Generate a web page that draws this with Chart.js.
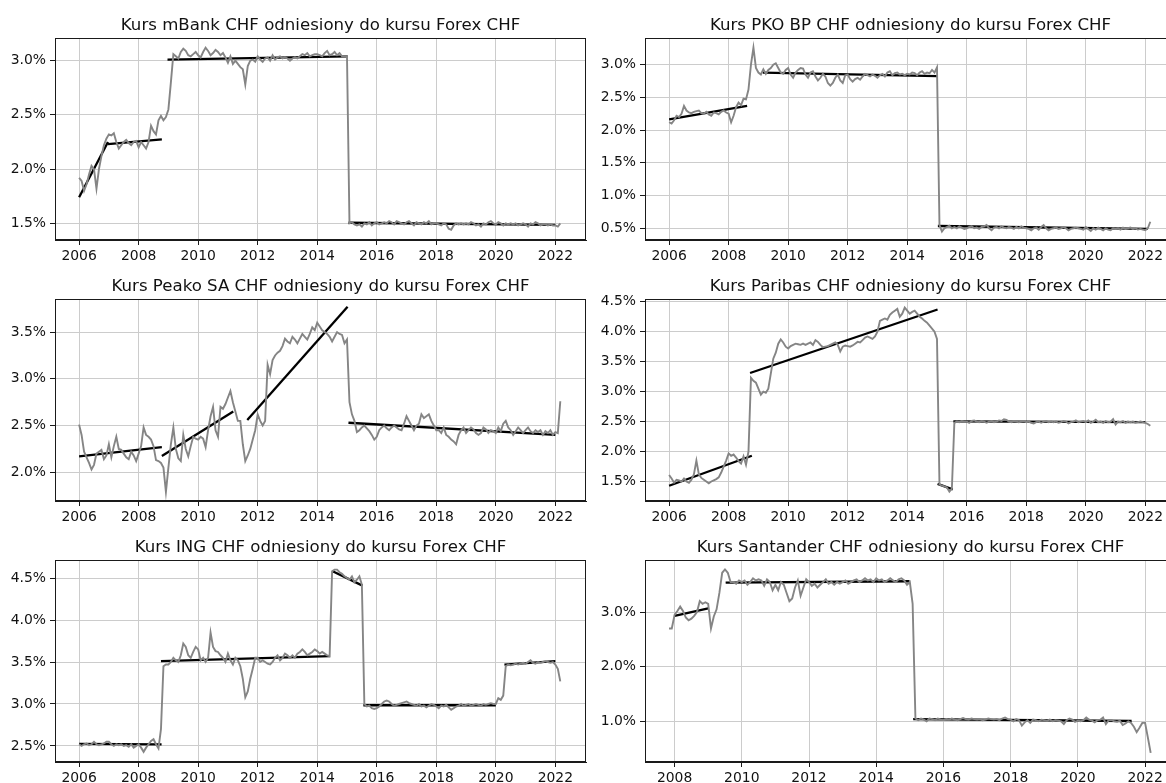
<!DOCTYPE html>
<html><head><meta charset="utf-8">
<script src="https://cdn.jsdelivr.net/npm/chart.js@4.4.1/dist/chart.umd.min.js"></script>
<style>
html,body{margin:0;padding:0;background:#fff;width:1166px;height:783px;overflow:hidden;position:relative;}
canvas{position:absolute;}
</style></head><body>
<canvas id="c0" width="590" height="261" style="left:0;top:0"></canvas>
<canvas id="c1" width="590" height="261" style="left:590px;top:0"></canvas>
<canvas id="c2" width="590" height="261" style="left:0;top:261px"></canvas>
<canvas id="c3" width="590" height="261" style="left:590px;top:261px"></canvas>
<canvas id="c4" width="590" height="261" style="left:0;top:522px"></canvas>
<canvas id="c5" width="590" height="261" style="left:590px;top:522px"></canvas>
<script>
// ---- tick labels ----
const xTicksMain = [2006, 2008, 2010, 2012, 2014, 2016, 2018, 2020, 2022];
const xTicksSantander = [2008, 2010, 2012, 2014, 2016, 2018, 2020, 2022];
const yTicksMbank = [1.5, 2.0, 2.5, 3.0];
const yTicksPko = [0.5, 1.0, 1.5, 2.0, 2.5, 3.0];
const yTicksPeako = [2.0, 2.5, 3.0, 3.5];
const yTicksParibas = [1.5, 2.0, 2.5, 3.0, 3.5, 4.0, 4.5];
const yTicksIng = [2.5, 3.0, 3.5, 4.0, 4.5];
const yTicksSantander = [1.0, 2.0, 3.0];

// ---- titles ----
const titles = [
  'Kurs mBank CHF odniesiony do kursu Forex CHF',
  'Kurs PKO BP CHF odniesiony do kursu Forex CHF',
  'Kurs Peako SA CHF odniesiony do kursu Forex CHF',
  'Kurs Paribas CHF odniesiony do kursu Forex CHF',
  'Kurs ING CHF odniesiony do kursu Forex CHF',
  'Kurs Santander CHF odniesiony do kursu Forex CHF'
];

// ---- monthly series (%), first value = month given by *Start ----
const mbankStart = 2006.0;
const mbankValues = [
  1.92,1.89,1.80,1.86,1.95,2.03,2.00,1.82,2.00,2.12,2.22,2.28,
  2.32,2.31,2.33,2.25,2.19,2.22,2.25,2.27,2.24,2.22,2.25,2.26,
  2.20,2.25,2.22,2.19,2.25,2.40,2.35,2.32,2.45,2.49,2.45,2.48,
  2.55,2.80,3.06,3.04,3.02,3.08,3.11,3.09,3.05,3.04,3.06,3.08,
  3.05,3.03,3.08,3.12,3.09,3.05,3.07,3.10,3.08,3.05,3.07,3.03,
  2.98,3.04,2.97,3.00,2.97,2.94,2.92,2.78,2.95,3.00,3.01,2.99,
  3.04,3.01,2.99,3.02,3.03,3.00,3.05,3.01,3.03,3.04,3.02,3.03,
  3.02,3.00,3.02,3.03,3.02,3.04,3.06,3.05,3.07,3.04,3.05,3.06,
  3.06,3.05,3.04,3.07,3.09,3.05,3.06,3.08,3.05,3.07,3.04,3.04,
  3.04,1.50,1.51,1.49,1.48,1.49,1.47,1.50,1.49,1.51,1.48,1.50,
  1.51,1.49,1.50,1.51,1.50,1.52,1.51,1.49,1.52,1.51,1.50,1.49,
  1.51,1.52,1.50,1.48,1.51,1.50,1.49,1.51,1.50,1.52,1.49,1.50,
  1.50,1.49,1.48,1.50,1.49,1.45,1.44,1.48,1.50,1.49,1.50,1.49,
  1.50,1.49,1.51,1.50,1.48,1.49,1.47,1.50,1.49,1.51,1.52,1.50,
  1.49,1.51,1.50,1.48,1.50,1.49,1.50,1.49,1.50,1.48,1.49,1.50,
  1.49,1.47,1.50,1.49,1.51,1.50,1.48,1.49,1.49,1.48,1.49,1.48,
  1.48,1.47,1.50
];
const pkoStart = 2006.0;
const pkoValues = [
  2.12,2.10,2.15,2.22,2.20,2.25,2.37,2.30,2.27,2.26,2.28,2.29,
  2.30,2.26,2.25,2.28,2.24,2.22,2.27,2.26,2.24,2.28,2.30,2.27,
  2.25,2.12,2.22,2.35,2.42,2.38,2.48,2.47,2.62,3.00,3.26,2.95,
  2.88,2.85,2.93,2.86,2.92,2.95,3.00,3.02,2.95,2.88,2.86,2.92,
  2.95,2.85,2.80,2.88,2.92,2.95,2.94,2.85,2.80,2.88,2.90,2.82,
  2.76,2.80,2.86,2.82,2.72,2.68,2.72,2.80,2.85,2.76,2.72,2.84,
  2.85,2.78,2.74,2.78,2.80,2.77,2.82,2.86,2.84,2.82,2.85,2.83,
  2.80,2.84,2.86,2.82,2.88,2.90,2.84,2.87,2.88,2.85,2.86,2.84,
  2.86,2.85,2.88,2.87,2.84,2.88,2.90,2.86,2.88,2.87,2.92,2.88,
  2.96,0.55,0.45,0.50,0.52,0.54,0.50,0.52,0.50,0.53,0.51,0.49,
  0.50,0.52,0.53,0.50,0.51,0.49,0.52,0.53,0.55,0.50,0.47,0.51,
  0.52,0.50,0.53,0.51,0.50,0.52,0.51,0.49,0.52,0.50,0.53,0.51,
  0.50,0.49,0.47,0.50,0.51,0.48,0.52,0.55,0.50,0.47,0.49,0.50,
  0.51,0.49,0.50,0.52,0.50,0.47,0.49,0.50,0.51,0.50,0.49,0.48,
  0.52,0.49,0.46,0.50,0.48,0.51,0.49,0.47,0.50,0.48,0.47,0.50,
  0.49,0.50,0.48,0.51,0.49,0.50,0.51,0.49,0.50,0.48,0.49,0.48,
  0.47,0.50,0.60
];
const peakoStart = 2006.0;
const peakoValues = [
  2.51,2.40,2.22,2.16,2.10,2.03,2.08,2.20,2.22,2.24,2.14,2.18,
  2.30,2.16,2.28,2.38,2.25,2.24,2.20,2.16,2.14,2.22,2.18,2.12,
  2.20,2.28,2.48,2.40,2.38,2.35,2.28,2.13,2.12,2.10,2.05,1.79,
  2.05,2.30,2.48,2.25,2.15,2.12,2.40,2.25,2.17,2.28,2.38,2.36,
  2.35,2.38,2.36,2.27,2.45,2.60,2.70,2.45,2.38,2.70,2.68,2.73,
  2.80,2.87,2.75,2.65,2.55,2.55,2.30,2.12,2.18,2.25,2.35,2.45,
  2.62,2.55,2.50,2.55,3.15,3.05,3.20,3.25,3.28,3.30,3.35,3.43,
  3.40,3.38,3.45,3.42,3.38,3.43,3.48,3.45,3.42,3.48,3.55,3.52,
  3.60,3.56,3.52,3.50,3.48,3.45,3.40,3.45,3.50,3.48,3.47,3.38,
  3.42,2.75,2.62,2.55,2.43,2.45,2.48,2.50,2.47,2.44,2.40,2.35,
  2.38,2.45,2.48,2.50,2.47,2.45,2.48,2.50,2.48,2.46,2.45,2.52,
  2.60,2.55,2.50,2.45,2.50,2.52,2.62,2.58,2.60,2.62,2.55,2.50,
  2.45,2.45,2.42,2.48,2.40,2.38,2.35,2.33,2.30,2.40,2.45,2.48,
  2.42,2.45,2.48,2.46,2.42,2.40,2.42,2.48,2.46,2.42,2.45,2.44,
  2.42,2.48,2.44,2.52,2.55,2.48,2.45,2.40,2.44,2.48,2.45,2.42,
  2.45,2.48,2.44,2.42,2.45,2.43,2.45,2.40,2.44,2.42,2.45,2.40,
  2.43,2.42,2.76
];
const paribasStart = 2006.0;
const paribasValues = [
  1.61,1.55,1.48,1.53,1.52,1.50,1.55,1.50,1.48,1.53,1.62,1.85,
  1.62,1.56,1.53,1.50,1.47,1.50,1.52,1.54,1.57,1.65,1.75,1.85,
  1.97,1.93,1.95,1.90,1.84,1.80,1.92,1.78,2.00,3.23,3.18,3.15,
  3.05,2.95,3.00,2.98,3.05,3.30,3.55,3.65,3.80,3.87,3.82,3.75,
  3.72,3.76,3.78,3.80,3.79,3.78,3.80,3.78,3.80,3.82,3.78,3.86,
  3.83,3.78,3.74,3.75,3.76,3.78,3.80,3.82,3.78,3.67,3.75,3.77,
  3.76,3.75,3.77,3.80,3.83,3.82,3.86,3.90,3.92,3.90,3.88,3.92,
  4.00,4.18,4.20,4.22,4.20,4.28,4.32,4.35,4.38,4.25,4.30,4.40,
  4.35,4.30,4.33,4.35,4.30,4.25,4.22,4.18,4.15,4.10,4.05,4.00,
  3.88,1.45,1.43,1.42,1.40,1.33,1.38,2.48,2.50,2.49,2.51,2.50,
  2.50,2.48,2.51,2.52,2.50,2.49,2.51,2.50,2.48,2.50,2.51,2.49,
  2.50,2.52,2.51,2.54,2.53,2.50,2.49,2.51,2.50,2.49,2.50,2.51,
  2.49,2.50,2.48,2.47,2.49,2.50,2.48,2.50,2.51,2.49,2.50,2.49,
  2.50,2.48,2.49,2.51,2.50,2.47,2.49,2.50,2.52,2.49,2.50,2.51,
  2.49,2.52,2.48,2.50,2.53,2.49,2.50,2.48,2.51,2.49,2.50,2.54,
  2.45,2.50,2.49,2.51,2.48,2.50,2.49,2.50,2.48,2.49,2.50,2.49,
  2.48,2.46,2.43
];
const ingStart = 2006.0;
const ingValues = [
  2.52,2.50,2.52,2.53,2.51,2.52,2.55,2.52,2.51,2.52,2.53,2.55,
  2.55,2.52,2.50,2.52,2.51,2.52,2.50,2.51,2.49,2.52,2.48,2.50,
  2.52,2.48,2.43,2.48,2.52,2.56,2.58,2.52,2.47,2.70,3.45,3.47,
  3.47,3.50,3.55,3.52,3.50,3.58,3.72,3.68,3.58,3.55,3.62,3.68,
  3.65,3.52,3.55,3.50,3.55,3.85,3.68,3.63,3.62,3.58,3.55,3.50,
  3.60,3.52,3.47,3.55,3.52,3.45,3.30,3.08,3.15,3.30,3.42,3.55,
  3.55,3.50,3.52,3.50,3.48,3.47,3.50,3.55,3.58,3.52,3.55,3.60,
  3.58,3.55,3.58,3.55,3.60,3.62,3.65,3.62,3.58,3.60,3.62,3.65,
  3.63,3.60,3.62,3.60,3.58,3.57,4.58,4.60,4.60,4.57,4.55,4.52,
  4.50,4.48,4.52,4.45,4.48,4.52,4.42,3.00,2.97,2.98,2.95,2.94,
  2.95,2.97,3.00,3.03,3.04,3.03,3.00,2.98,2.99,3.00,3.01,3.02,
  3.03,3.01,3.00,2.99,2.98,3.00,2.97,2.98,2.96,2.98,3.00,2.99,
  2.97,2.95,2.98,2.97,2.99,2.96,2.93,2.95,2.97,2.98,3.00,2.98,
  2.99,3.00,2.98,2.99,3.00,2.99,2.98,3.00,2.99,3.00,3.01,3.00,
  3.00,3.07,3.05,3.10,3.45,3.47,3.46,3.47,3.48,3.47,3.48,3.49,
  3.48,3.50,3.52,3.49,3.48,3.50,3.49,3.50,3.51,3.50,3.49,3.50,
  3.47,3.42,3.27
];
const santanderStart = 2007 + 10 / 12;
const santanderValues = [
  2.70,2.70,
  2.95,3.02,3.10,3.02,2.90,2.85,2.88,2.93,3.00,3.20,3.15,3.18,
  3.15,2.70,2.92,3.05,3.35,3.72,3.78,3.72,3.55,3.55,3.52,3.58,
  3.55,3.58,3.50,3.55,3.62,3.58,3.60,3.58,3.48,3.60,3.55,3.40,
  3.50,3.40,3.55,3.50,3.35,3.20,3.25,3.45,3.58,3.30,3.45,3.60,
  3.55,3.48,3.52,3.45,3.50,3.55,3.60,3.52,3.55,3.50,3.55,3.52,
  3.55,3.58,3.52,3.55,3.58,3.60,3.55,3.58,3.62,3.58,3.60,3.55,
  3.62,3.58,3.60,3.55,3.58,3.62,3.58,3.55,3.60,3.62,3.58,3.50,
  3.55,3.15,1.05,1.02,1.05,1.03,1.00,1.05,1.04,1.02,1.05,1.03,
  1.02,1.04,1.03,1.05,1.03,1.02,1.04,1.06,1.04,1.03,1.05,1.04,
  1.03,1.04,1.02,1.03,1.05,1.04,1.03,1.04,1.02,1.05,1.07,1.04,
  1.03,1.00,1.04,1.02,0.92,0.98,1.02,0.97,1.03,1.02,1.00,1.03,
  1.02,1.01,1.03,1.00,1.02,1.01,1.00,0.95,1.02,1.05,1.03,0.99,
  1.01,1.00,1.02,1.07,1.03,1.01,0.98,1.02,1.03,1.07,0.95,1.02,
  1.02,1.00,0.99,1.01,0.93,0.96,1.00,0.97,0.90,0.80,0.88,0.97,
  0.97,0.70,0.42
];

// ---- trend segments [x0, y0, x1, y1] ----
const mbankTrends = [[2006.0,1.74,2006.97,2.25],[2006.97,2.23,2008.78,2.275],[2008.97,3.01,2015.02,3.04],[2015.05,1.505,2022.0,1.485]];
const pkoTrends = [[2006.0,2.165,2008.62,2.37],[2009.15,2.88,2015.02,2.825],[2015.03,0.535,2022.08,0.49]];
const peakoTrends = [[2006.0,2.17,2008.78,2.27],[2008.78,2.175,2011.18,2.65],[2011.65,2.56,2015.02,3.77],[2015.05,2.53,2022.0,2.40]];
const paribasTrends = [[2006.0,1.43,2008.78,1.93],[2008.72,3.31,2015.02,4.37],[2015.02,1.46,2015.53,1.37],[2015.55,2.505,2022.0,2.49]];
const ingTrends = [[2006.0,2.525,2008.77,2.52],[2008.75,3.51,2014.43,3.57],[2014.5,4.585,2015.52,4.41],[2015.55,2.985,2020.0,2.985],[2020.29,3.47,2022.0,3.51]];
const santanderTrends = [[2008.0,2.93,2009.0,3.07],[2009.52,3.54,2014.99,3.565],[2015.1,1.04,2021.6,1.005]];

// ---- axis ranges ----
const xRangeMain = [2005.19, 2023.03];
const xRangeSantander = [2007.12, 2022.92];
const yRanges = [[1.346,3.209],[0.321,3.408],[1.693,3.854],[1.175,4.545],[2.309,4.715],[0.254,3.954]];

Chart.defaults.font.family = "'DejaVu Sans'";

const panels = [
  {id:'c0', start:mbankStart, values:mbankValues, trends:mbankTrends, xr:xRangeMain, xt:xTicksMain, yt:yTicksMbank},
  {id:'c1', start:pkoStart, values:pkoValues, trends:pkoTrends, xr:xRangeMain, xt:xTicksMain, yt:yTicksPko},
  {id:'c2', start:peakoStart, values:peakoValues, trends:peakoTrends, xr:xRangeMain, xt:xTicksMain, yt:yTicksPeako},
  {id:'c3', start:paribasStart, values:paribasValues, trends:paribasTrends, xr:xRangeMain, xt:xTicksMain, yt:yTicksParibas},
  {id:'c4', start:ingStart, values:ingValues, trends:ingTrends, xr:xRangeMain, xt:xTicksMain, yt:yTicksIng},
  {id:'c5', start:santanderStart, values:santanderValues, trends:santanderTrends, xr:xRangeSantander, xt:xTicksSantander, yt:yTicksSantander}
];

const framePlugin = {
  id: 'frame',
  afterDatasetsDraw(chart, args, opts) {
    const {ctx, chartArea: a} = chart;
    ctx.save();
    ctx.strokeStyle = '#1a1a1a';
    ctx.lineWidth = 1;
    ctx.strokeRect(Math.round(a.left) + 0.5, Math.round(a.top) + 0.5, Math.round(a.right - a.left) - 1, Math.round(a.bottom - a.top) - 1);
    // title centred over the axes, matplotlib style
    ctx.fillStyle = '#111';
    ctx.font = '16.6px "DejaVu Sans"';
    ctx.textAlign = 'center';
    ctx.textBaseline = 'alphabetic';
    ctx.fillText(opts.text, (a.left + a.right) / 2, a.top - 8);
    ctx.restore();
  }
};

const tickFont = {family: "'DejaVu Sans'", size: 13.9};
const gridCol = '#cccccc';

panels.forEach((p, i) => {
  const datasets = [];
  datasets.push({
    data: p.values.map((v, k) => ({x: p.start + k / 12, y: v})),
    borderColor: '#858585', borderWidth: 1.9, pointRadius: 0, tension: 0, order: 0
  });
  p.trends.forEach(t => datasets.push({
    data: [{x: t[0], y: t[1]}, {x: t[2], y: t[3]}],
    borderColor: '#000000', borderWidth: 2.3, pointRadius: 0, tension: 0, order: 1
  }));
  new Chart(document.getElementById(p.id), {
    type: 'line',
    data: {datasets},
    plugins: [framePlugin],
    options: {
      responsive: false, animation: false, devicePixelRatio: 1,
      layout: {padding: {left: 0, right: 4, top: 38, bottom: 0}},
      plugins: {
        legend: {display: false}, tooltip: {enabled: false}, title: {display: false},
        frame: {text: titles[i]}
      },
      scales: {
        x: {
          type: 'linear', min: p.xr[0], max: p.xr[1],
          afterBuildTicks: s => { s.ticks = p.xt.map(v => ({value: v})); },
          afterFit: s => { s.height = 21; },
          ticks: {callback: v => String(v), font: tickFont, color: '#111', padding: 3, maxRotation: 0, autoSkip: false},
          grid: {color: gridCol, lineWidth: 1, tickColor: '#1a1a1a', tickLength: 5, drawTicks: true},
          border: {display: true, color: '#1a1a1a', width: 1}
        },
        y: {
          type: 'linear', min: yRanges[i][0], max: yRanges[i][1],
          afterBuildTicks: s => { s.ticks = p.yt.map(v => ({value: v})); },
          afterFit: s => { s.width = 55; },
          ticks: {callback: v => v.toFixed(1) + '%', font: tickFont, color: '#111', padding: 4, autoSkip: false},
          grid: {color: gridCol, lineWidth: 1, tickColor: '#1a1a1a', tickLength: 5, drawTicks: true},
          border: {display: true, color: '#1a1a1a', width: 1}
        }
      }
    }
  });
});
</script>
</body></html>
